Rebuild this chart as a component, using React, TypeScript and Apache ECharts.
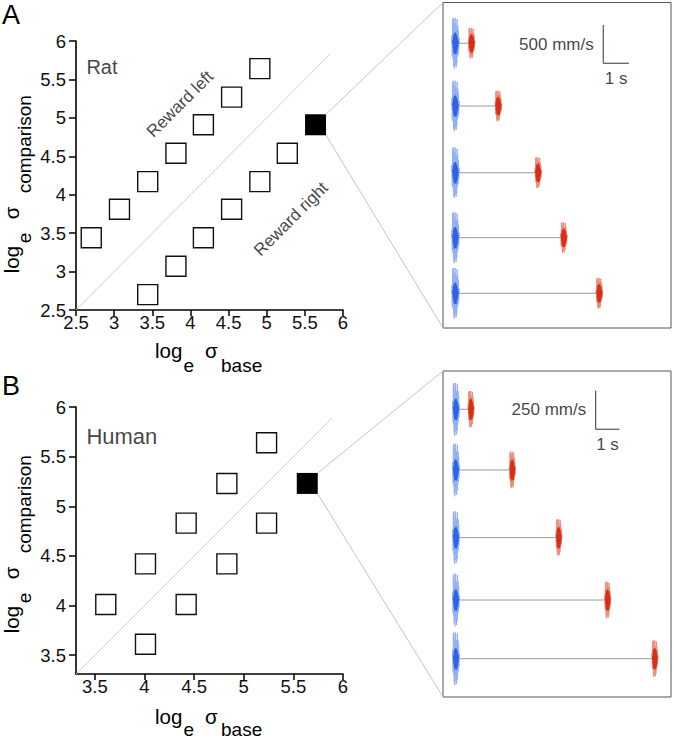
import React, { useEffect, useRef } from "react";
import * as echarts from "echarts";

const FONT = "'Liberation Sans', Arial, Helvetica, sans-serif";
const INK = "#000";

// ---------- Panel A (rat): log_e sigma values ----------
const ratLeftX = [2.7, 3.07, 3.44, 3.81, 4.17, 4.54, 4.91];
const ratLeftY = [3.44, 3.81, 4.17, 4.54, 4.91, 5.27, 5.64];
const ratRightX = [3.44, 3.81, 4.17, 4.54, 4.91, 5.27];
const ratRightY = [2.7, 3.07, 3.44, 3.81, 4.17, 4.54];
const ratHighlight = [5.64, 4.91];
const ratTicks = [2.5, 3, 3.5, 4, 4.5, 5, 5.5, 6];
const ratDiagonal = [2.5, 5.83];

// ---------- Panel B (human) ----------
const humanUpperX = [3.61, 4.01, 4.42, 4.83, 5.23];
const humanUpperY = [4.01, 4.42, 4.83, 5.23, 5.64];
const humanLowerX = [4.01, 4.42, 4.83, 5.23];
const humanLowerY = [3.61, 4.01, 4.42, 4.83];
const humanHighlight = [5.64, 5.23];
const humanTicks = [3.5, 4, 4.5, 5, 5.5, 6];
const humanDiagonal = [3.31, 5.89];

// ---------- Example traces ----------
// delay (s) of the comparison burst after the base burst, one per row
const ratDelays = [0.63, 1.67, 3.22, 4.22, 5.6];
const humanDelays = [0.64, 2.39, 4.36, 6.43, 8.43];
// peak amplitudes (mm/s): base outer, base core, comparison outer, comparison core
const ratAmps = [330, 140, 200, 120];
const humanAmps = [170, 70, 118, 68];
// scale bars
const ratScaleBar = [500, 1]; // mm/s, s
const humanScaleBar = [250, 1];
// burst waveform shape (normalised vibration samples)
const burstOuterShape = [0, 0.3, -0.5, 0.95, -0.6, 1.0, -0.9, 0.5, -1.0, 0.8, -0.65, 1.0, -0.85, 0.7, -0.95, 0.6, -0.8, 0.95, -0.55, 0.7, -0.45, 0.5, -0.3, 0.2, 0];
const burstCoreShape = [0, 0.3, -0.45, 0.7, -0.8, 0.9, -1.0, 0.85, -0.95, 1.0, -0.9, 0.95, -1.0, 0.8, -0.85, 0.7, -0.6, 0.45, -0.35, 0.2, 0];

// ---------- layout of trace boxes (axis units) ----------
const ratBox = { tMin: -0.486, tMax: 8.386, vMax: 4249, rows: [3717, 2898, 2027, 1179, 453], barT: 5.75, barV: 3456 };
const humanBox = { tMin: -0.551, tMax: 9.11, vMax: 2111, rows: [1863, 1470, 1032, 628, 248], barT: 5.92, barV: 1734 };

function pairs(xs: number[], ys: number[]) {
  return xs.map((x, i) => [x, ys[i]]);
}

function burst(t0: number, v0: number, shape: number[], amp: number, dur: number) {
  const n = shape.length;
  return shape.map((s, i) => [t0 - dur / 2 + (dur * i) / (n - 1), v0 + s * amp]);
}

function scatterAxis(gridIndex: number, min: number, max: number, ticks: number[], isY: boolean) {
  return {
    type: "value",
    gridIndex,
    min,
    max,
    axisLine: { show: true, onZero: false, lineStyle: { color: INK, width: 1.6 } },
    axisTick: { show: true, inside: false, customValues: ticks, length: isY ? 7 : 6, lineStyle: { color: INK, width: 1.5 } },
    axisLabel: {
      show: true,
      customValues: ticks,
      fontSize: 18.5,
      color: "#111",
      fontFamily: FONT,
      margin: isY ? 10 : 3,
      formatter: (v: number) => String(v),
    },
    splitLine: { show: false },
  };
}

function boxAxes(gridIndex: number, box: any) {
  return {
    x: { type: "value", gridIndex, min: box.tMin, max: box.tMax, show: false },
    y: { type: "value", gridIndex, min: 0, max: box.vMax, show: false },
  };
}

function traceSeries(gridIndex: number, box: any, delays: number[], amps: number[], bar: number[]) {
  const s: any[] = [];
  const common = { type: "line", xAxisIndex: gridIndex, yAxisIndex: gridIndex, symbol: "none", silent: true, animation: false };
  delays.forEach((d, i) => {
    const v0 = box.rows[i];
    s.push({ ...common, data: [[0, v0], [d, v0]], lineStyle: { color: "#9a9a9a", width: 1 } });
    s.push({ ...common, data: burst(0, v0, burstOuterShape, amps[0], 0.3), lineStyle: { color: "#93b0f3", width: 1 } });
    s.push({ ...common, data: burst(0, v0, burstCoreShape, amps[1], 0.22), lineStyle: { color: "#2f63e6", width: 1.2 } });
    s.push({ ...common, data: burst(d, v0, burstOuterShape, amps[2], 0.26), lineStyle: { color: "#ea8d7c", width: 1 } });
    s.push({ ...common, data: burst(d, v0, burstCoreShape, amps[3], 0.2), lineStyle: { color: "#d62f18", width: 1.3 } });
  });
  // scale bar
  s.push({
    ...common,
    data: [[box.barT, box.barV + bar[0]], [box.barT, box.barV], [box.barT + bar[1], box.barV]],
    lineStyle: { color: "#333", width: 1 },
  });
  s.push({
    type: "scatter",
    xAxisIndex: gridIndex,
    yAxisIndex: gridIndex,
    symbolSize: 1,
    itemStyle: { color: "transparent" },
    silent: true,
    data: [
      { value: [box.barT, box.barV + bar[0] / 2], label: { show: true, position: "left", distance: 9, formatter: `${bar[0]} mm/s` } },
      { value: [box.barT + bar[1] / 2, box.barV], label: { show: true, position: "bottom", distance: 6, formatter: `${bar[1]} s` } },
    ],
    label: { fontSize: 17, color: "#111", fontFamily: FONT },
  });
  return s;
}

function textLabel(gridIndex: number, pos: number[], text: string, fontSize: number, position: string, rotate = 0) {
  return {
    type: "scatter",
    xAxisIndex: gridIndex,
    yAxisIndex: gridIndex,
    symbolSize: 1,
    itemStyle: { color: "transparent" },
    silent: true,
    data: [pos],
    label: { show: true, formatter: text, position, distance: 0, rotate, fontSize, color: "#111", fontFamily: FONT },
  };
}

function squares(gridIndex: number, data: number[][], filled: boolean) {
  return {
    type: "scatter",
    xAxisIndex: gridIndex,
    yAxisIndex: gridIndex,
    symbol: "rect",
    symbolSize: filled ? 21 : 20,
    silent: true,
    data,
    itemStyle: filled
      ? { color: "#000", borderColor: "#000", borderWidth: 0, opacity: 1 }
      : { color: "#fff", borderColor: "#111", borderWidth: 1.4, opacity: 1 },
    z: 3,
  };
}

function diagonal(gridIndex: number, d: number[]) {
  return {
    type: "line",
    xAxisIndex: gridIndex,
    yAxisIndex: gridIndex,
    symbol: "none",
    silent: true,
    data: [[d[0], d[0]], [d[1], d[1]]],
    lineStyle: { color: "#cfcfcf", width: 1 },
    z: 1,
  };
}

function txt(x: number, y: number, text: string, fontSize: number) {
  return {
    type: "text",
    x,
    y,
    silent: true,
    style: { text, fontSize, fontFamily: FONT, fill: INK, align: "left", verticalAlign: "middle" },
  };
}

// axis title: parts [text, dx, subscript]
function axisTitle(x: number, y: number, rotated: boolean, parts: any[], subDrop: number) {
  const MAIN = 20.5;
  const SUB = 19;
  return {
    type: "group",
    x,
    y,
    rotation: rotated ? Math.PI / 2 : 0,
    children: parts.map(([t, dx, sub]) =>
      txt(dx, sub ? subDrop - 0.3465 * SUB : -0.3465 * MAIN, t, sub ? SUB : MAIN)
    ),
  };
}

export default function App() {
  const ref = useRef<HTMLDivElement>(null);

  useEffect(() => {
    const chart = echarts.init(ref.current!, null, { renderer: "svg" });
    const ra = boxAxes(2, ratBox);
    const ha = boxAxes(3, humanBox);

    const option: any = {
      animation: false,
      backgroundColor: "#fff",
      textStyle: { fontFamily: FONT },
      grid: [
        { left: 76, top: 41, width: 267, height: 269, show: false },
        { left: 76, top: 407, width: 267, height: 267, show: false },
        { left: 443, top: 2.5, width: 228, height: 325.5, show: true, borderColor: "#555", borderWidth: 1, backgroundColor: "transparent" },
        { left: 443, top: 371, width: 228, height: 326, show: true, borderColor: "#555", borderWidth: 1, backgroundColor: "transparent" },
      ],
      xAxis: [
        scatterAxis(0, 2.5, 6, ratTicks, false),
        scatterAxis(1, 3.31, 6, humanTicks, false),
        ra.x,
        ha.x,
      ],
      yAxis: [
        scatterAxis(0, 2.5, 6, ratTicks, true),
        scatterAxis(1, 3.31, 6, humanTicks, true),
        ra.y,
        ha.y,
      ],
      series: [
        diagonal(0, ratDiagonal),
        squares(0, pairs(ratLeftX, ratLeftY), false),
        squares(0, pairs(ratRightX, ratRightY), false),
        squares(0, [ratHighlight], true),
        textLabel(0, [2.63, 5.66], "Rat", 20, "right"),
        textLabel(0, [3.863, 5.179], "Reward left", 17, "inside", 45),
        textLabel(0, [5.318, 3.683], "Reward right", 17, "inside", 45),

        diagonal(1, humanDiagonal),
        squares(1, pairs(humanUpperX, humanUpperY), false),
        squares(1, pairs(humanLowerX, humanLowerY), false),
        squares(1, [humanHighlight], true),
        textLabel(1, [3.41, 5.7], "Human", 22, "right"),

        ...traceSeries(2, ratBox, ratDelays, ratAmps, ratScaleBar),
        ...traceSeries(3, humanBox, humanDelays, humanAmps, humanScaleBar),
      ],
    };
    chart.setOption(option);

    // connector lines from the highlighted square to the trace box corners
    const connectors: any[] = [];
    const link = (gi: number, pt: number[], boxGi: number, box: any, half: number) => {
      const p = chart.convertToPixel({ gridIndex: gi } as any, pt) as number[];
      const tl = chart.convertToPixel({ gridIndex: boxGi } as any, [box.tMin, box.vMax]) as number[];
      const bl = chart.convertToPixel({ gridIndex: boxGi } as any, [box.tMin, 0]) as number[];
      connectors.push({ type: "line", silent: true, shape: { x1: p[0] + half, y1: p[1] - half, x2: tl[0], y2: tl[1] }, style: { stroke: "#c4c4c4", lineWidth: 1 } });
      connectors.push({ type: "line", silent: true, shape: { x1: p[0] + half, y1: p[1] + half, x2: bl[0], y2: bl[1] }, style: { stroke: "#c4c4c4", lineWidth: 1 } });
    };
    link(0, ratHighlight, 2, ratBox, 10.5);
    link(1, humanHighlight, 3, humanBox, 10.5);

    const graphic = [
      ...connectors,
      { type: "text", x: 2, y: 15, silent: true, style: { text: "A", fontSize: 27, fontFamily: FONT, fill: INK, verticalAlign: "middle" } },
      { type: "text", x: 2, y: 386, silent: true, style: { text: "B", fontSize: 27, fontFamily: FONT, fill: INK, verticalAlign: "middle" } },
      axisTitle(155, 358, false, [["log", 0, false], ["e", 28.5, true], ["σ", 50, false], ["base", 66, true]], 13.7),
      axisTitle(18.3, 273.3, true, [["log", 0, false], ["e", 30, true], ["σ", 54, false], ["comparison", 80, true]], 12.7),
      axisTitle(155, 723.5, false, [["log", 0, false], ["e", 28.5, true], ["σ", 50, false], ["base", 66, true]], 12.5),
      axisTitle(18.3, 633.3, true, [["log", 0, false], ["e", 30, true], ["σ", 54, false], ["comparison", 80, true]], 12.7),
    ];
    chart.setOption({ graphic });

    return () => chart.dispose();
  }, []);

  return (
    <div
      ref={ref}
      style={{ position: "absolute", left: 0, top: 0, width: 674, height: 740, background: "#fff" }}
    />
  );
}
